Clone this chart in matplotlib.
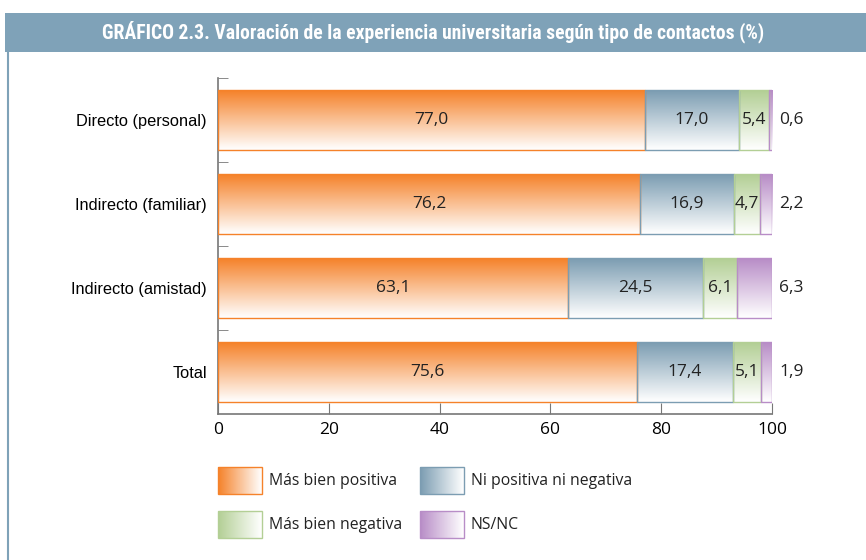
import matplotlib.pyplot as plt
import matplotlib.colors as mcolors
import numpy as np

categories = ['Directo (personal)', 'Indirecto (familiar)', 'Indirecto (amistad)', 'Total']
series_names = ['Más bien positiva', 'Ni positiva ni negativa', 'Más bien negativa', 'NS/NC']
positiva = [77.0, 76.2, 63.1, 75.6]
ni_ni = [17.0, 16.9, 24.5, 17.4]
negativa = [5.4, 4.7, 6.1, 5.1]
nsnc = [0.6, 2.2, 6.3, 1.9]
x_ticks = [0, 20, 40, 60, 80, 100]

title = 'GRÁFICO 2.3. Valoración de la experiencia universitaria según tipo de contactos (%)'
colors = ['#F5822A', '#7C9DB2', '#B3CF95', '#B88DC7']
frame_color = '#7FA2B8'

W, H = 866, 560
fig = plt.figure(figsize=(W / 100, H / 100), dpi=100)

# background / decoration layer in pixel coordinates
bg = fig.add_axes([0, 0, 1, 1], zorder=0)
bg.set_xlim(0, W)
bg.set_ylim(H, 0)
bg.axis('off')
bg.add_patch(plt.Rectangle((5, 13), W - 5, 39, color=frame_color, lw=0))
bg.plot([8, 8], [52, H], color=frame_color, lw=1.5)
bg.text(433, 32, title, color='white', fontsize=14.1, fontweight='bold',
        ha='center', va='center',
        family=['Liberation Sans Narrow', 'DejaVu Sans Condensed', 'Roboto Condensed', 'Roboto'])


def gradient(color, n=64, horizontal=False):
    rgb = np.array(mcolors.to_rgb(color))
    t = np.linspace(0, 1, n)[:, None]
    g = rgb * (1 - t) + np.ones(3) * t
    if horizontal:
        return g[None, :, :]
    return g[:, None, :]


ax = fig.add_axes([218 / W, 1 - 414 / H, 554 / W, 336 / H], zorder=1)
ax.patch.set_alpha(0)
y = np.arange(len(categories))
bar_h = 0.71
data = [positiva, ni_ni, negativa, nsnc]
left = np.zeros(len(categories))
for i, vals in enumerate(data):
    bars = ax.barh(y, vals, left=left, height=bar_h, facecolor='none',
                   edgecolor=colors[i], lw=1, zorder=3)
    for b, v, l in zip(bars, vals, left):
        x0, yc = b.get_x(), b.get_y() + b.get_height() / 2
        ax.imshow(gradient(colors[i]), extent=(x0, x0 + b.get_width(),
                  yc + bar_h / 2, yc - bar_h / 2), origin='upper',
                  aspect='auto', zorder=2)
        lab = f'{v:.1f}'.replace('.', ',')
        if i < 3:
            ax.text(l + v / 2, yc, lab, ha='center', va='center', fontsize=12.5,
                    color='#222222', family='Open Sans', zorder=4)
        else:
            ax.text(101.3, yc, lab, ha='left', va='center', fontsize=12.5,
                    color='#222222', family='Open Sans', zorder=4)
    left = left + np.array(vals)

ax.set_xlim(0, 100)
ax.set_ylim(len(categories) - 0.5, -0.5)
ax.set_yticks(y)
ax.set_yticklabels(categories, family='Liberation Sans', fontsize=11.8)
ax.set_yticks(np.arange(len(categories)) - 0.5, minor=True)
ax.tick_params(axis='y', which='major', length=0, pad=8)
ax.tick_params(axis='y', which='minor', length=7, direction='in', color='#777777')
ax.set_xticks(x_ticks)
ax.set_xticklabels([str(t) for t in x_ticks], family='Open Sans', fontsize=12.5)
ax.tick_params(axis='x', length=8, direction='in', color='#777777', pad=6)
for s in ['top', 'right']:
    ax.spines[s].set_visible(False)
for s in ['left', 'bottom']:
    ax.spines[s].set_color('#777777')
    ax.spines[s].set_linewidth(1.2)

# legend drawn by hand
swatch_pos = [(218, 467), (420, 467), (218, 511), (420, 511)]
for name, c, (sx, sy) in zip(series_names, colors, swatch_pos):
    bg.imshow(gradient(c, horizontal=True), extent=(sx, sx + 44, sy + 27, sy),
              aspect='auto', zorder=2)
    bg.add_patch(plt.Rectangle((sx, sy), 44, 27, fill=False, edgecolor=c, lw=1, zorder=3))
    bg.text(sx + 51, sy + 14, name, ha='left', va='center', fontsize=11.3,
            color='#222222', family='Open Sans')
bg.set_xlim(0, W)
bg.set_ylim(H, 0)

fig.savefig('out.png', dpi=100)
